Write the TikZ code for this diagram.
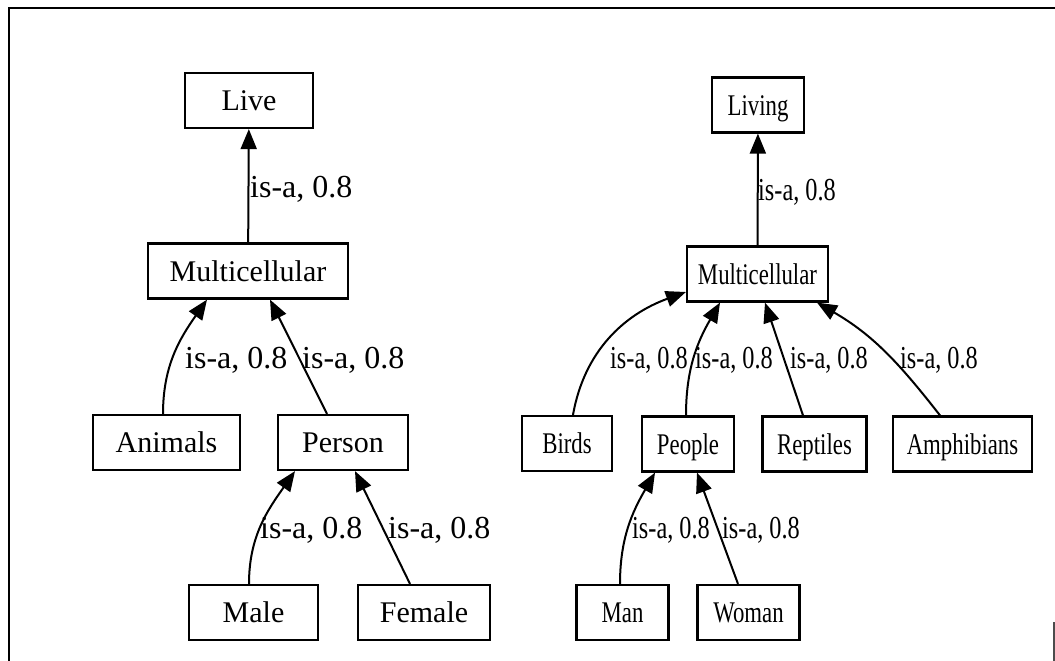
\documentclass[tikz,border=0pt]{standalone}
\usepackage{fontspec}
\setmainfont{Liberation Serif}
\newfontfamily\condserif[FakeStretch=0.76]{Liberation Serif}
\usetikzlibrary{arrows.meta}
\begin{document}
\begin{tikzpicture}[x=1pt,y=-1pt,
  box/.style={draw, line width=2.2pt, inner sep=0pt, minimum width=#1, minimum height=55pt,
              text height=21pt, text depth=1pt, font=\fontsize{30}{34}\selectfont},
  rbox/.style={box=#1, font=\condserif\fontsize{30}{34}\selectfont},
  lab/.style={inner sep=0pt, anchor=base west, font=\fontsize{32}{36}\selectfont},
  rlab/.style={lab, font=\condserif\fontsize{32}{36}\selectfont},
  isa/.style={line width=2pt, -{Triangle[length=20pt,width=16pt]}}]
\useasboundingbox (0,0) rectangle (1055,661);

% open frame
\draw[line width=2.5pt] (1055,8) -- (9,8) -- (9,661);
\draw[line width=2pt, black!70] (1054,622) -- (1054,661);

% left hierarchy
\node[box=128pt] (live)    at (249,100.5) {Live};
\node[box=200pt] (ml)      at (248,271)   {Multicellular};
\node[box=147pt] (animals) at (166.5,442.5) {Animals};
\node[box=130pt] (person)  at (343,442.5) {Person};
\node[box=129pt] (male)    at (253.5,612.5) {Male};
\node[box=132pt] (female)  at (424,612.5) {Female};

\draw[isa] (ml) -- (live);
\draw[isa] ([xshift=-3.5pt]animals.north) to[out=90,in=235] ([xshift=-41pt]ml.south);
\draw[isa] ([xshift=-16pt]person.north) -- ([xshift=22pt]ml.south);
\draw[isa] ([xshift=-4.5pt]male.north) to[out=90,in=235] ([xshift=-48pt]person.south);
\draw[isa] ([xshift=-14pt]female.north) -- ([xshift=12pt]person.south);

\node[lab] (llive)    at (250,197) {is-a, 0.8};
\node[lab] (lanimals) at (185,368) {is-a, 0.8};
\node[lab] (lperson)  at (302,368) {is-a, 0.8};
\node[lab] (lmale)    at (260,538) {is-a, 0.8};
\node[lab] (lfemale)  at (388,538) {is-a, 0.8};

% right hierarchy
\node[rbox=92pt]  (living)     at (758,105)   {Living};
\node[rbox=141pt] (mr)         at (757.5,274) {Multicellular};
\node[rbox=90pt]  (birds)      at (567,443.5) {Birds};
\node[rbox=92pt]  (people)     at (688,444)   {People};
\node[rbox=104pt] (reptiles)   at (814.5,444) {Reptiles};
\node[rbox=139pt] (amphibians) at (962.5,444) {Amphibians};
\node[rbox=92pt]  (man)        at (622.5,612.5) {Man};
\node[rbox=102pt] (woman)      at (748.5,612.5) {Woman};

\draw[isa] (mr) -- (living);
\draw[isa] ([xshift=6pt]birds.north) to[out=80,in=200] ([yshift=-18pt]mr.west);
\draw[isa] ([xshift=-2pt]people.north) to[out=90,in=240] ([xshift=-37.5pt]mr.south);
\draw[isa] ([xshift=-11.5pt]reptiles.north) -- ([xshift=7.5pt]mr.south);
\draw[isa] ([xshift=-22.5pt]amphibians.north) to[out=128,in=-30] ([xshift=59.5pt]mr.south);
\draw[isa] ([xshift=-2.5pt]man.north) to[out=90,in=240] ([xshift=-33pt]people.south);
\draw[isa] ([xshift=-10.5pt]woman.north) -- ([xshift=9pt]people.south);

\node[rlab] (rliving)     at (758,200) {is-a, 0.8};
\node[rlab] (rbirds)      at (610,368) {is-a, 0.8};
\node[rlab] (rpeople)     at (695,368) {is-a, 0.8};
\node[rlab] (rreptiles)   at (790,368) {is-a, 0.8};
\node[rlab] (ramphibians) at (900,368) {is-a, 0.8};
\node[rlab] (rman)        at (632,538) {is-a, 0.8};
\node[rlab] (rwoman)      at (722,538) {is-a, 0.8};
\end{tikzpicture}
\end{document}
